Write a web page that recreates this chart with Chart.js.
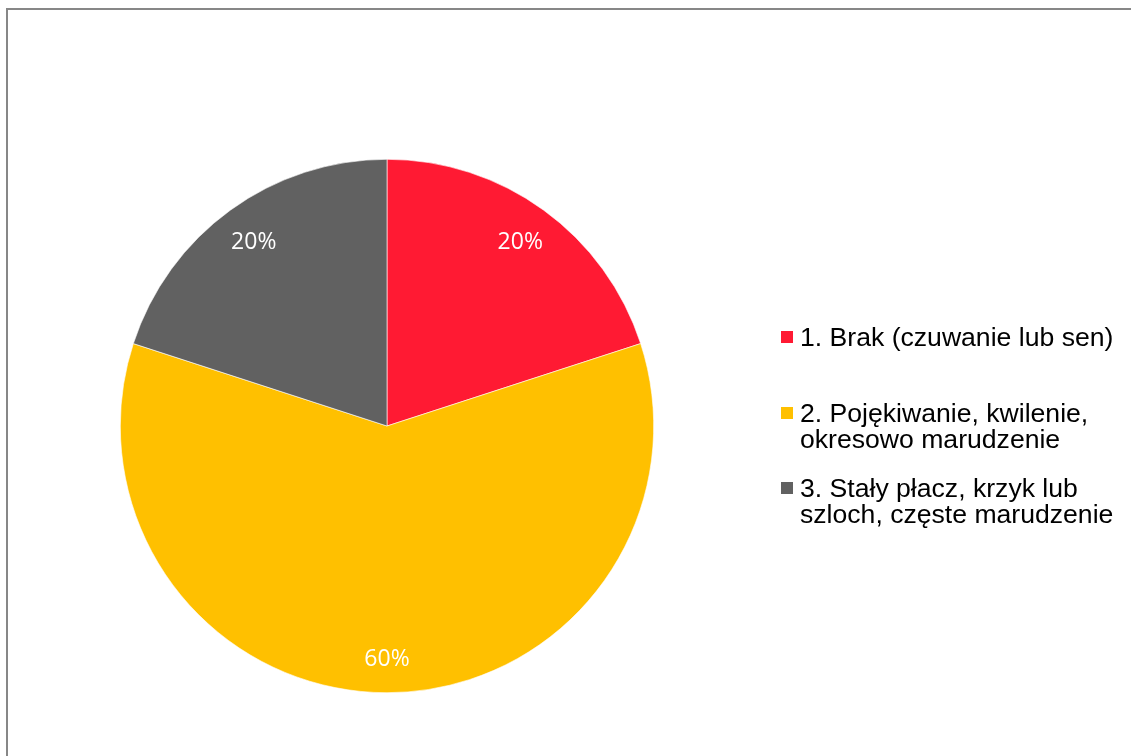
<!DOCTYPE html>
<html>
<head>
<meta charset="utf-8">
<script src="https://cdn.jsdelivr.net/npm/chart.js@4"></script>
<style>
  html, body { margin: 0; padding: 0; background: #fff; }
  #wrap { width: 1131px; height: 756px; position: relative; }
</style>
</head>
<body>
<div id="wrap"><canvas id="pie"></canvas></div>
<script>
// categories (legend text, one entry per line) and values in percent
const categories = [
  ['1. Brak (czuwanie lub sen)'],
  ['2. Pojękiwanie, kwilenie,', 'okresowo marudzenie'],
  ['3. Stały płacz, krzyk lub', 'szloch, częste marudzenie']
];
const values = [20, 60, 20];
const colors = ['#FF1A33', '#FFC000', '#616161'];

// frame around the chart
const framePlugin = {
  id: 'frame',
  beforeDraw(chart) {
    const c = chart.ctx;
    c.save();
    c.fillStyle = '#fff';
    c.fillRect(0, 0, chart.width, chart.height);
    c.strokeStyle = '#878787';
    c.lineWidth = 2;
    c.strokeRect(7, 9, chart.width + 20, chart.height + 20);
    c.restore();
  }
};

// percent labels inside the slices
const sliceLabels = {
  id: 'sliceLabels',
  afterDatasetsDraw(chart) {
    const c = chart.ctx;
    const meta = chart.getDatasetMeta(0);
    const total = values.reduce((a, b) => a + b, 0);
    c.save();
    c.font = '23px "Open Sans"';
    c.fillStyle = '#fff';
    c.textAlign = 'center';
    c.textBaseline = 'middle';
    meta.data.forEach((arc, i) => {
      const p = arc.getProps(['x', 'y', 'startAngle', 'endAngle', 'outerRadius'], true);
      const mid = (p.startAngle + p.endAngle) / 2;
      const r = p.outerRadius * (values[i] / total > 0.5 ? 0.875 : 0.85);
      c.fillText(Math.round(values[i] / total * 100) + '%', p.x + Math.cos(mid) * r, p.y + Math.sin(mid) * r);
    });
    c.restore();
  }
};

// legend on the right, with wrapped lines
const sideLegend = {
  id: 'sideLegend',
  afterDraw(chart) {
    const c = chart.ctx;
    const rows = [346, 422, 497];
    c.save();
    c.font = '26.6px "Liberation Sans", Arial, sans-serif';
    c.textBaseline = 'alphabetic';
    c.textAlign = 'left';
    categories.forEach((lines, i) => {
      c.fillStyle = colors[i];
      c.fillRect(781, rows[i] - 15, 12, 12);
      c.fillStyle = '#000';
      lines.forEach((t, j) => c.fillText(t, 800, rows[i] + j * 26));
    });
    c.restore();
  }
};

new Chart(document.getElementById('pie'), {
  type: 'pie',
  data: {
    labels: categories.map(l => l.join(' ')),
    datasets: [{
      data: values,
      backgroundColor: colors,
      borderColor: '#ffffff',
      borderWidth: 0.6
    }]
  },
  options: {
    responsive: true,
    maintainAspectRatio: false,
    animation: false,
    layout: { padding: { left: 120, right: 477, top: 159, bottom: 63 } },
    plugins: {
      legend: { display: false },
      tooltip: { enabled: false }
    }
  },
  plugins: [framePlugin, sliceLabels, sideLegend]
});
</script>
</body>
</html>
